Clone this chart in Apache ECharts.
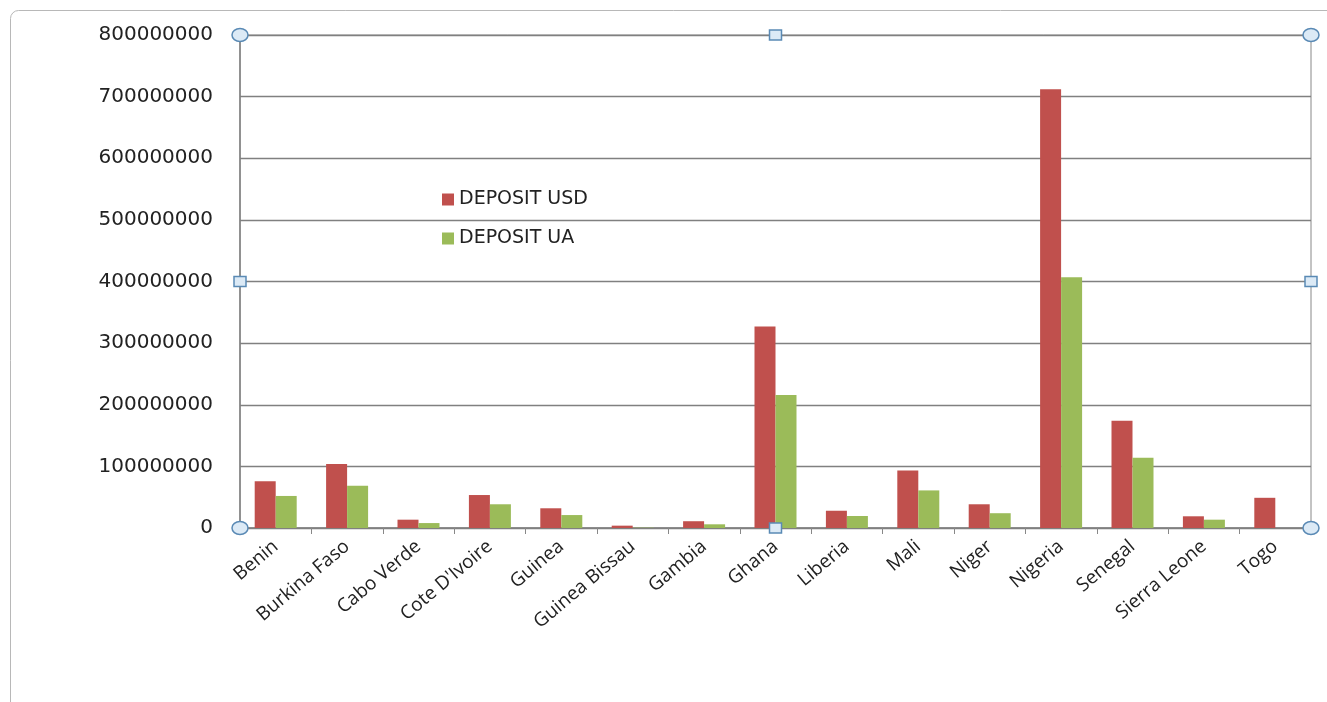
<!DOCTYPE html>
<html><head><meta charset="utf-8">
<script src="https://cdn.jsdelivr.net/npm/echarts@6/dist/echarts.min.js"></script>
<style>html,body{margin:0;padding:0;background:#fff}#c{width:1327px;height:702px}</style>
</head><body><div id="c"></div>
<script>
var categories = ["Benin","Burkina Faso","Cabo Verde","Cote D'Ivoire","Guinea","Guinea Bissau","Gambia","Ghana","Liberia","Mali","Niger","Nigeria","Senegal","Sierra Leone","Togo"];
var depositUSD = [76000000,104000000,13500000,53500000,32000000,3800000,11000000,327000000,28000000,93500000,38500000,712000000,174000000,19000000,49000000];
var depositUA  = [52000000,68500000,8000000,38500000,21000000,500000,6000000,216000000,19500000,61000000,24000000,407000000,114000000,13500000,0];
var seriesNames = ["DEPOSIT USD","DEPOSIT UA"];

var chart = echarts.init(document.getElementById('c'));
var L=240,R=1311,T=35,B=528,MX=(L+R)/2,MY=(T+B)/2;
function circ(x,y){return {type:'ellipse',shape:{cx:x,cy:y,rx:8,ry:6.5},style:{fill:'#dceaf6',stroke:'#5a8ab5',lineWidth:1.5},z:100};}
function sq(x,y){return {type:'rect',shape:{x:x-6,y:y-5,width:12,height:10},style:{fill:'#dceaf6',stroke:'#5a8ab5',lineWidth:1.5},z:100};}
chart.setOption({
  animation:false,
  backgroundColor:'#fff',
  graphic:[
    {type:'rect',shape:{x:10.5,y:10.5,width:1340,height:720,r:8},style:{fill:'none',stroke:'#b8b8b8',lineWidth:1},z:-1},
    circ(L,T),circ(R,T),circ(L,B),circ(R,B),
    sq(MX,T),sq(MX,B),sq(L,MY),sq(R,MY)
  ],
  grid:{left:L,right:1327-R,top:T,bottom:702-B,show:true,borderColor:'#888',borderWidth:1},
  legend:{
    orient:'vertical',left:437,top:185,itemGap:20,itemWidth:12,itemHeight:12,
    icon:'rect',
    textStyle:{fontFamily:'DejaVu Sans',fontSize:19,color:'#222',padding:[0,0,0,0]},
    data:seriesNames
  },
  xAxis:{
    type:'category',data:categories,
    axisLine:{lineStyle:{color:'#808080',width:1.5}},
    axisTick:{show:true,length:6,lineStyle:{color:'#888'}},
    axisLabel:{rotate:40,interval:0,fontFamily:'Open Sans',fontSize:19,color:'#222',margin:16}
  },
  yAxis:{
    type:'value',min:0,max:800000000,interval:100000000,
    axisLine:{show:true,lineStyle:{color:'#808080',width:1.5}},
    splitLine:{lineStyle:{color:'#808080',width:1.3}},
    axisTick:{show:false},
    axisLabel:{fontFamily:'DejaVu Sans',fontSize:20,color:'#222',margin:27,formatter:function(v){return String(v);}}
  },
  series:[
    {name:seriesNames[0],type:'bar',data:depositUSD,itemStyle:{color:'#C0504D'},barWidth:21,barGap:'0%'},
    {name:seriesNames[1],type:'bar',data:depositUA,itemStyle:{color:'#9BBB59'},barWidth:21,barGap:'0%'}
  ]
});
</script></body></html>
